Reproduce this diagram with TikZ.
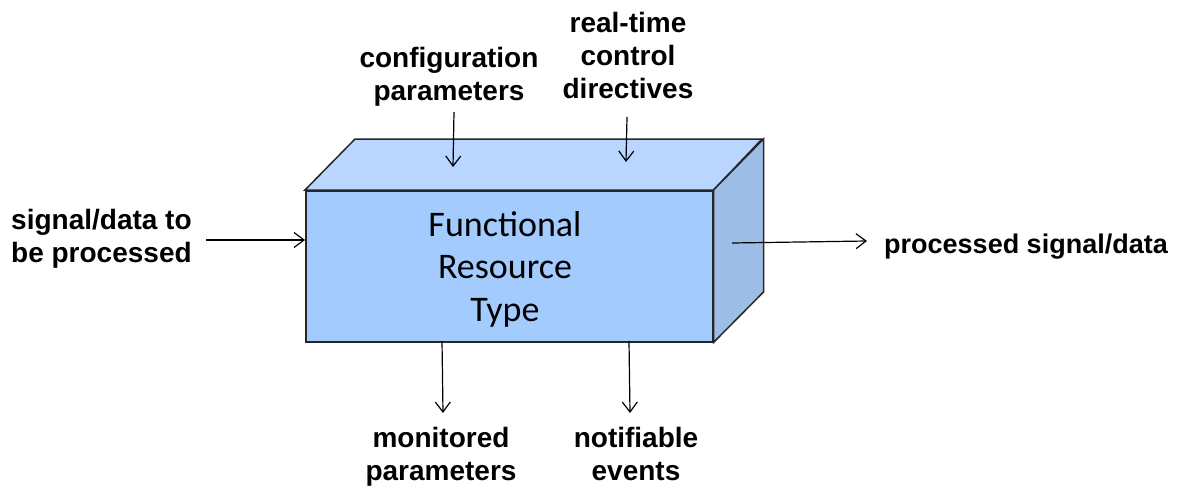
\documentclass[tikz,border=0pt]{standalone}
\usepackage{fontspec}
\setmainfont{Liberation Sans}
\newfontfamily\boxfont{Carlito}
\usetikzlibrary{arrows.meta}
\definecolor{frontc}{RGB}{164,203,254}
\definecolor{topc}{RGB}{184,214,255}
\definecolor{sidec}{RGB}{156,189,230}
\tikzset{
  lbl/.style={font=\fontsize{28}{33}\selectfont\bfseries, align=center, inner sep=0pt},
  conn/.style={line width=1.2pt, -{Straight Barb[length=10pt,width=15pt]}},
  face/.style={draw=black!85, line width=1.5pt, line join=miter}
}
\begin{document}
\begin{tikzpicture}[x=1pt,y=-1pt]
\useasboundingbox (0,0) rectangle (1184,487);
% box
\node[face, fill=frontc, minimum width=407pt, minimum height=151pt, inner sep=0pt, anchor=north west] (front) at (305,190) {};
\draw[face, fill=topc] (front.north west) -- ++(50,-51) -- ++(407,0) -- (front.north east) -- cycle;
\draw[face, fill=sidec] (front.north east) -- ++(50,-51) -- ++(0,153) -- (front.south east) -- cycle;
\node[font=\boxfont\fontsize{36}{42.5}\selectfont, align=center, inner sep=0pt] (title) at (505,269) {Functional\\Resource\\Type};
% labels
\node[lbl] (cfg) at (449,77) {configuration\\parameters};
\node[lbl] (rtc) at (628,55) {real-time\\control\\directives};
\node[lbl, align=left, anchor=west] (sin) at (11,239) {signal/data to\\be processed};
\node[lbl, font=\fontsize{27}{33}\selectfont\bfseries, anchor=base west] (sout) at (884,253) {processed signal/data};
\node[lbl] (mon) at (441,456.5) {monitored\\parameters};
\node[lbl] (ntf) at (636,453.5) {notifiable\\events};
% arrow ends
\coordinate (cfgA) at (454,112);
\coordinate (cfgB) at (453,167);
\coordinate (rtcA) at (627,117);
\coordinate (rtcB) at (626,162);
\coordinate (sinA) at (206,240);
\coordinate (soutA) at (732,243);
\coordinate (soutB) at (867,241);
\coordinate (monA) at (442,341);
\coordinate (monB) at (443,413);
\coordinate (ntfA) at (629,341);
\coordinate (ntfB) at (630,413);
% connectors
\draw[conn] (cfgA) -- (cfgB);
\draw[conn] (rtcA) -- (rtcB);
\draw[conn] (sinA) -- (front.west |- sinA);
\draw[conn] (soutA) -- (soutB);
\draw[conn] (monA) -- (monB);
\draw[conn] (ntfA) -- (ntfB);
\end{tikzpicture}
\end{document}
